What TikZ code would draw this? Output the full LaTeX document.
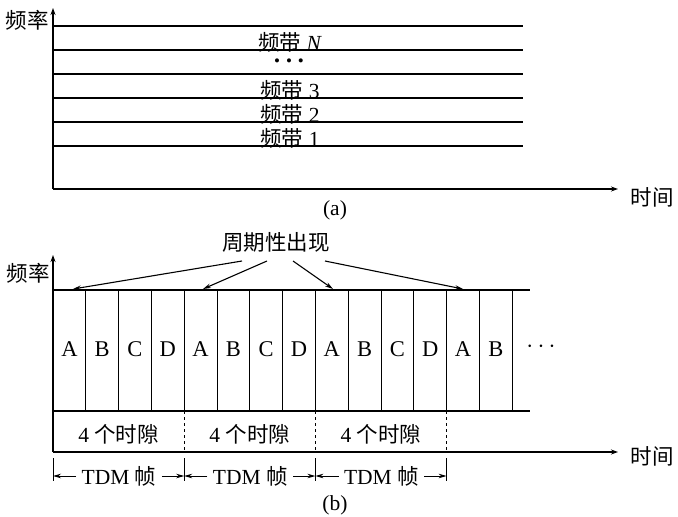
\documentclass[tikz,border=0pt]{standalone}
\usepackage{fontspec}
\setmainfont{Liberation Serif}
\newfontfamily\cjk{Noto Sans CJK SC}
\usetikzlibrary{arrows.meta}
\begin{document}
\begin{tikzpicture}[x=1pt,y=-1pt,line width=1.1pt,
  txt/.style={font=\fontsize{21.5}{24}\selectfont,inner sep=0pt},
  axis/.style={-{Stealth[length=7pt,width=5pt]}},
  ptr/.style={-{Stealth[length=8pt,width=4.5pt]}},
  slot/.style={line width=0.9pt},
  frameline/.style={line width=0.8pt,dash pattern=on 3pt off 3pt},
  tick/.style={line width=0.9pt}]
\useasboundingbox (0,0) rectangle (678,517);
% ---------- (a) ----------
\coordinate (aO) at (53,189);
\coordinate (aY) at (53,8);
\coordinate (aX) at (618,189);
\draw[axis] (aO) -- (aY);
\draw[axis] (aO) -- (aX);
\node[txt] (afl) at (27,20) {\cjk 频率};
\node[txt] (atl) at (652,197) {\cjk 时间};
\node[txt] (acap) at (335,210) {(a)};
\foreach \y [count=\i] in {26,50,74,98,122,146} {
  \coordinate (bl\i) at (53,\y);
  \coordinate (br\i) at (523,\y);
  \draw (bl\i) -- (br\i);
}
\node[txt] (bN) at (290,42) {{\cjk 频带} \textit{N}};
\node[font=\fontsize{17}{19}\selectfont,inner sep=0pt] (bdots) at (289,63) {\textbullet\hspace{6pt}\textbullet\hspace{6pt}\textbullet};
\node[txt] (b3) at (290,90) {{\cjk 频带} 3};
\node[txt] (b2) at (290,114) {{\cjk 频带} 2};
\node[txt] (b1) at (290,138) {{\cjk 频带} 1};
% ---------- (b) ----------
\coordinate (bO) at (53,452);
\coordinate (bY) at (53,255);
\coordinate (bX) at (618,452);
\draw[axis] (bO) -- (bY);
\draw[axis] (bO) -- (bX);
\node[txt] (bfl) at (28,273) {\cjk 频率};
\node[txt] (btl) at (652,456) {\cjk 时间};
\node[txt] (bcap) at (335,505) {(b)};
\coordinate (topL) at (53,290);
\coordinate (topR) at (530,290);
\coordinate (botL) at (53,411);
\coordinate (botR) at (530,411);
\draw (topL) -- (topR);
\draw (botL) -- (botR);
\foreach \k in {1,...,14} {
  \coordinate (vt\k) at ({53+32.8*\k},290);
  \coordinate (vb\k) at ({53+32.8*\k},411);
  \draw[slot] (vt\k) -- (vb\k);
}
\foreach \l [count=\k from 0] in {A,B,C,D,A,B,C,D,A,B,C,D,A,B} {
  \node[txt,font=\fontsize{22.5}{24}\selectfont] (s\k) at ({53+32.8*\k+16.4},349) {\l};
}
\node[txt,font=\fontsize{24}{26}\selectfont] (more) at (541,347) {$\cdots$};
% frames
\foreach \i in {1,2,3} {
  \coordinate (dt\i) at ({53+131.2*\i},411);
  \coordinate (db\i) at ({53+131.2*\i},452);
  \draw[frameline] (dt\i) -- (db\i);
}
\foreach \i in {0,1,2} {
  \node[txt] (slot\i) at ({53+131.2*\i+65.6},434) {4 {\cjk 个时隙}};
}
\foreach \i in {0,1,2,3} {
  \coordinate (tt\i) at ({53+131.2*\i},458);
  \coordinate (tb\i) at ({53+131.2*\i},481);
  \coordinate (tm\i) at ({53+131.2*\i},476);
  \draw[tick] (tt\i) -- (tb\i);
}
\foreach \i [evaluate=\i as \j using int(\i+1)] in {0,1,2} {
  \node[txt,inner xsep=5pt] (tdm\i) at ({53+131.2*\i+66},476) {TDM {\cjk 帧}};
  \draw[ptr,line width=0.9pt] (tdm\i.west) -- (tm\i);
  \draw[ptr,line width=0.9pt] (tdm\i.east) -- (tm\j);
}
% periodic label and pointers
\node[txt] (per) at (276,242) {\cjk 周期性出现};
\coordinate (p1) at (242,261);
\coordinate (p2) at (267,261);
\coordinate (p3) at (293,261);
\coordinate (p4) at (325,261);
\coordinate (q1) at (73,289);
\coordinate (q2) at (203,289);
\coordinate (q3) at (333,289);
\coordinate (q4) at (463,289);
\foreach \i in {1,2,3,4} { \draw[ptr] (p\i) -- (q\i); }
\end{tikzpicture}
\end{document}
